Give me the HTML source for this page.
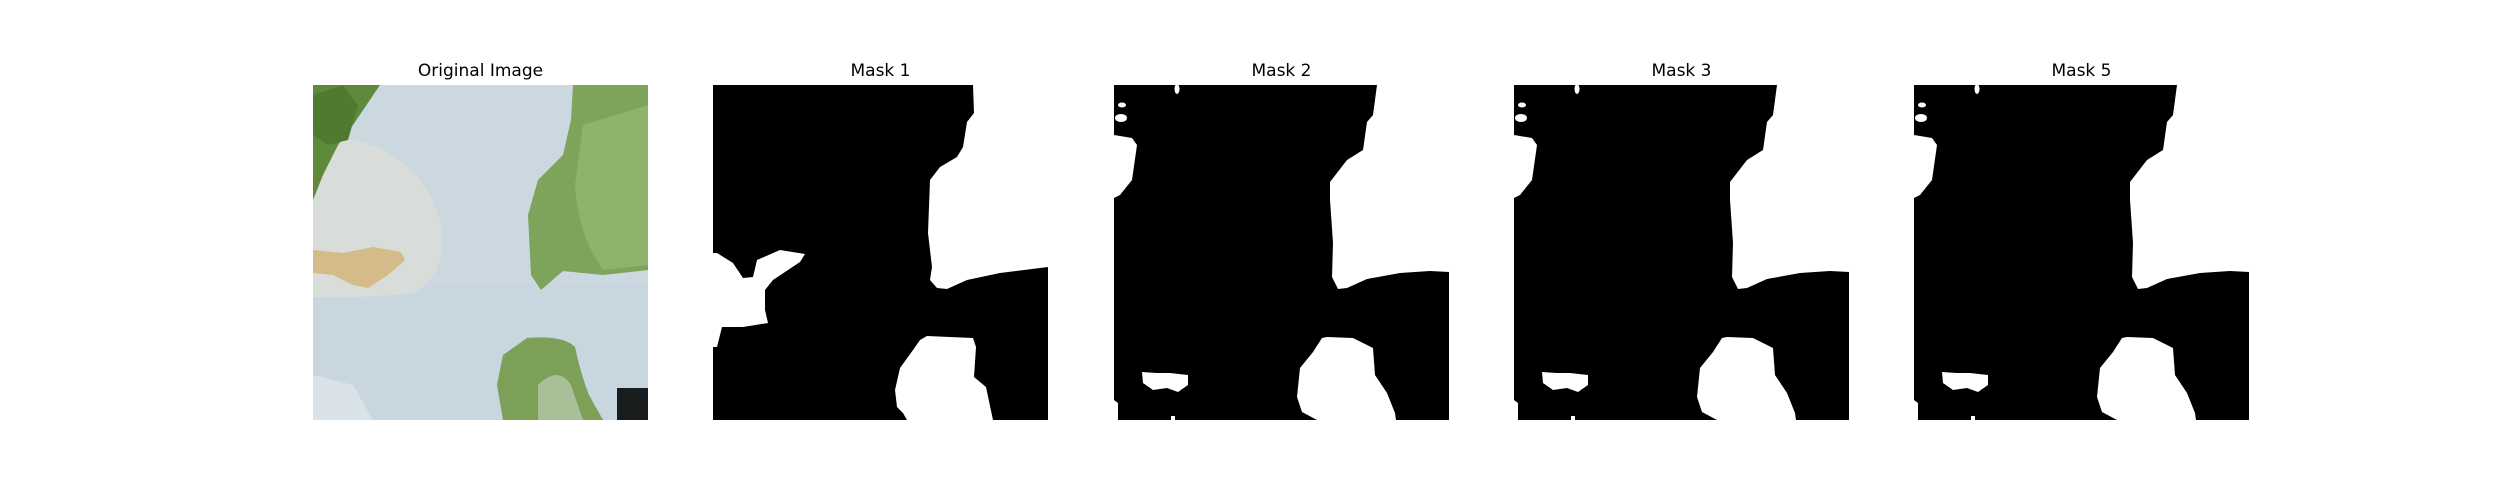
<!DOCTYPE html>
<html><head><meta charset="utf-8"><style>
html,body{margin:0;padding:0;background:#fff;width:2500px;height:500px;overflow:hidden}
svg{display:block}
text{font-family:"DejaVu Sans","Liberation Sans",sans-serif;font-size:17px;fill:#000}
</style></head><body>
<svg width="2500" height="500" xmlns="http://www.w3.org/2000/svg">
<defs>
<clipPath id="cp"><rect x="0" y="0" width="335" height="335"/></clipPath>
</defs>
<!-- Original image -->
<g transform="translate(313,85)">
<text x="167.5" y="-9" text-anchor="middle">Original Image</text>
<g clip-path="url(#cp)">
<rect width="335" height="335" fill="#cbd8df"/>
<rect y="200" width="335" height="135" fill="#c8d6df"/>
<path d="M0,60 Q20,50 40,55 Q110,70 128,140 Q135,190 100,208 Q60,213 0,212 Z" fill="#d9ddd9"/>
<path d="M0,0 L67,0 L40,40 L25,60 L10,90 L0,115 Z" fill="#5f8a3c"/>
<path d="M0,10 L30,0 L45,20 L35,55 L15,60 L0,50Z" fill="#4f7a30"/>
<path d="M260,0 L335,0 L335,185 L290,190 L250,186 L228,205 L218,190 L215,130 L225,95 L250,70 L258,35 Z" fill="#7ea35a"/>
<path d="M270,40 L335,20 L335,180 L290,185 Q265,150 262,100 Z" fill="#8fb36c"/>
<path d="M214,253 Q250,250 262,262 Q268,290 276,310 L290,335 L190,335 L184,300 L190,270 Z" fill="#7ca057"/>
<path d="M225,300 Q245,280 258,300 L270,335 L225,335 Z" fill="#a9bf98"/>
<rect x="304" y="303" width="31" height="32" fill="#1a1d1e"/>
<path d="M0,165 L30,168 L60,162 L88,167 L92,175 L75,190 L55,203 L40,200 L20,190 L0,188Z" fill="#d5bb8a"/>
<path d="M0,290 L40,300 L60,335 L0,335Z" fill="#d8e2e8"/>
</g>
</g>
<!-- Mask 1 -->
<g transform="translate(713,85)">
<text x="167.5" y="-9" text-anchor="middle">Mask 1</text>
<g clip-path="url(#cp)">
<rect width="335" height="335" fill="#000"/>
<path d="M260,0 L261,28 L254,37 L250,62 L244,72 L227,82 L217,95 L215,148 L219,182 L217,195 L224,203 L234,204 L254,195 L287,188 L335,182 L335,0Z" fill="#fff"/>
<path d="M207,255 L214,251 L260,253 L263,262 L261,292 L273,302 L280,335 L194,335 L190,328 L184,322 L182,305 L187,283 L200,265Z" fill="#fff"/>
<path d="M0,168 L4,168 L20,178 L30,193 L40,192 L44,175 L67,165 L92,169 L87,177 L60,195 L52,205 L52,225 L55,238 L30,242 L9,242 L4,262 L0,262Z" fill="#fff"/>
</g>
</g>
<!-- Masks 2,3,5 -->
<g id="m2" transform="translate(1114,85)">
<text x="167.5" y="-9" text-anchor="middle">Mask 2</text>
<g clip-path="url(#cp)">
<rect width="335" height="335" fill="#000"/>
<path d="M263,0 L259,30 L253,37 L249,65 L233,75 L216,97 L216,115 L219,158 L218,192 L224,204 L233,203 L253,194 L286,188 L316,186 L335,187 L335,0Z" fill="#fff"/>
<path d="M208,253 L213,252 L239,253 L259,263 L261,290 L273,308 L281,328 L282,335 L203,335 L188,327 L183,312 L186,283 L199,267Z" fill="#fff"/>
<path d="M0,50 L18,53 L23,60 L18,95 L6,110 L0,113Z" fill="#fff"/>
<ellipse cx="7" cy="33" rx="6" ry="4" fill="#fff"/>
<ellipse cx="8" cy="20" rx="4" ry="2.5" fill="#fff"/>
<ellipse cx="63" cy="4" rx="2.5" ry="5" fill="#fff"/>
<path d="M28,287 L43,288 L56,288 L74,290 L74,300 L64,307 L53,303 L39,305 L29,298Z" fill="#fff"/>
<path d="M0,315 L4,318 L4,335 L0,335Z" fill="#fff"/>
<rect x="57" y="331" width="4" height="4" fill="#fff"/>
</g>
</g>
<g transform="translate(1514,85)">
<text x="167.5" y="-9" text-anchor="middle">Mask 3</text>
<g clip-path="url(#cp)">
<rect width="335" height="335" fill="#000"/>
<path d="M263,0 L259,30 L253,37 L249,65 L233,75 L216,97 L216,115 L219,158 L218,192 L224,204 L233,203 L253,194 L286,188 L316,186 L335,187 L335,0Z" fill="#fff"/>
<path d="M208,253 L213,252 L239,253 L259,263 L261,290 L273,308 L281,328 L282,335 L203,335 L188,327 L183,312 L186,283 L199,267Z" fill="#fff"/>
<path d="M0,50 L18,53 L23,60 L18,95 L6,110 L0,113Z" fill="#fff"/>
<ellipse cx="7" cy="33" rx="6" ry="4" fill="#fff"/>
<ellipse cx="8" cy="20" rx="4" ry="2.5" fill="#fff"/>
<ellipse cx="63" cy="4" rx="2.5" ry="5" fill="#fff"/>
<path d="M28,287 L43,288 L56,288 L74,290 L74,300 L64,307 L53,303 L39,305 L29,298Z" fill="#fff"/>
<path d="M0,315 L4,318 L4,335 L0,335Z" fill="#fff"/>
<rect x="57" y="331" width="4" height="4" fill="#fff"/>
</g>
</g>
<g transform="translate(1914,85)">
<text x="167.5" y="-9" text-anchor="middle">Mask 5</text>
<g clip-path="url(#cp)">
<rect width="335" height="335" fill="#000"/>
<path d="M263,0 L259,30 L253,37 L249,65 L233,75 L216,97 L216,115 L219,158 L218,192 L224,204 L233,203 L253,194 L286,188 L316,186 L335,187 L335,0Z" fill="#fff"/>
<path d="M208,253 L213,252 L239,253 L259,263 L261,290 L273,308 L281,328 L282,335 L203,335 L188,327 L183,312 L186,283 L199,267Z" fill="#fff"/>
<path d="M0,50 L18,53 L23,60 L18,95 L6,110 L0,113Z" fill="#fff"/>
<ellipse cx="7" cy="33" rx="6" ry="4" fill="#fff"/>
<ellipse cx="8" cy="20" rx="4" ry="2.5" fill="#fff"/>
<ellipse cx="63" cy="4" rx="2.5" ry="5" fill="#fff"/>
<path d="M28,287 L43,288 L56,288 L74,290 L74,300 L64,307 L53,303 L39,305 L29,298Z" fill="#fff"/>
<path d="M0,315 L4,318 L4,335 L0,335Z" fill="#fff"/>
<rect x="57" y="331" width="4" height="4" fill="#fff"/>
</g>
</g>
</svg>
</body></html>
